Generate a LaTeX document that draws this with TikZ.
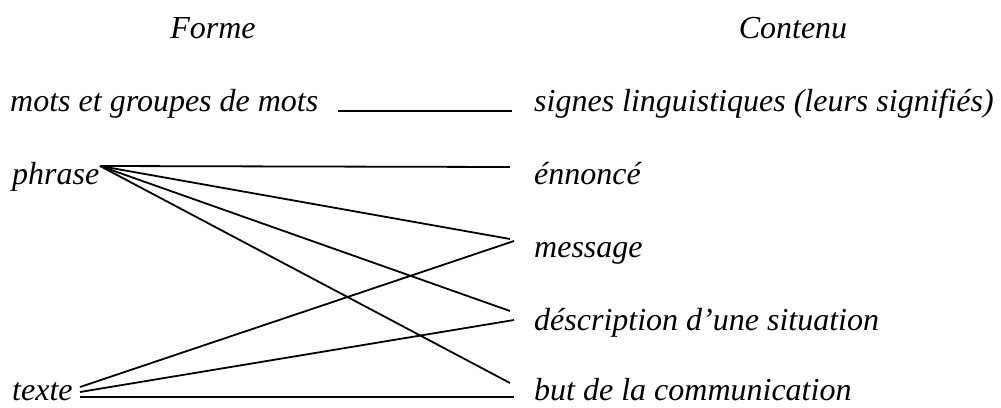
\documentclass[tikz,border=0pt]{standalone}
\usepackage{fontspec}
\setmainfont{Liberation Serif}
\begin{document}
\begin{tikzpicture}[x=1pt,y=-1pt,
  lbl/.style={inner sep=0pt,anchor=base west,font=\fontsize{32}{38}\selectfont\itshape},
  head/.style={inner sep=0pt,anchor=base,font=\fontsize{32}{38}\selectfont\itshape},
  link/.style={line width=1.8pt,line cap=butt}]
\useasboundingbox (0,0) rectangle (1001,407);
\node[head] (forme) at (213,38) {Forme};
\node[head] (contenu) at (793,38) {Contenu};
\node[lbl] (mots) at (10,111) {mots et groupes de mots};
\node[lbl] (phrase) at (12,184) {phrase};
\node[lbl] (texte) at (12,400) {texte};
\node[lbl] (signes) at (534,111) {signes linguistiques (leurs signifiés)};
\node[lbl] (ennonce) at (534,184) {énnoncé};
\node[lbl] (message) at (534,257) {message};
\node[lbl] (descr) at (534,330) {déscription d’une situation};
\node[lbl] (but) at (534,400) {but de la communication};
% anchor points
\coordinate (mR) at (338,111);
\coordinate (sL) at (512,111);
\coordinate (pR) at (100,166);
\coordinate (eL) at (510,167);
\coordinate (mA) at (510,239);
\coordinate (dA) at (510,311);
\coordinate (bA) at (510,383);
\coordinate (t1) at (80,387);
\coordinate (t2) at (80,392);
\coordinate (t3) at (80,397);
\coordinate (mB) at (514,241);
\coordinate (dB) at (514,320);
\coordinate (bB) at (514,397);
\draw[link] (mR) -- (sL);
\draw[link] (pR) -- (eL);
\draw[link] (pR) -- (mA);
\draw[link] (pR) -- (dA);
\draw[link] (pR) -- (bA);
\draw[link] (t1) -- (mB);
\draw[link] (t2) -- (dB);
\draw[link] (t3) -- (bB);
\end{tikzpicture}
\end{document}
